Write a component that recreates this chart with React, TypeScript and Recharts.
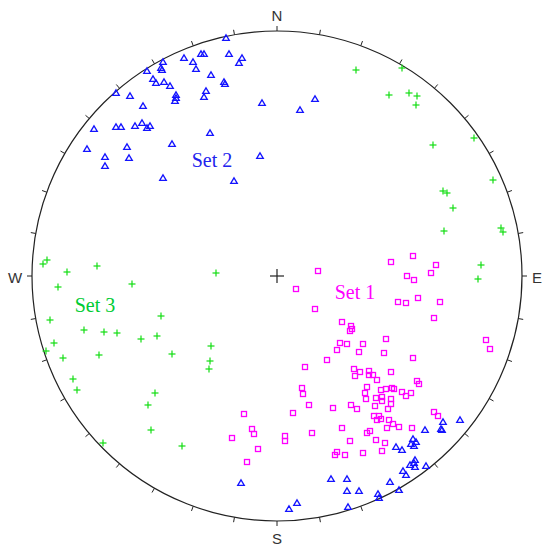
import { ScatterChart, Scatter, XAxis, YAxis, ReferenceDot, ReferenceLine } from "recharts";

// stereonet: projection units, primitive circle radius = 245
const R = 245;
const TICK_ANGLES = [0, 10, 20, 30, 40, 50, 60, 70, 80, 90, 100, 110, 120, 130, 140, 150, 160, 170,
  180, 190, 200, 210, 220, 230, 240, 250, 260, 270, 280, 290, 300, 310, 320, 330, 340, 350];

const directions = [
  { x: 0, y: 261, label: "N" },
  { x: 260, y: -1, label: "E" },
  { x: 0, y: -262, label: "S" },
  { x: -262, y: -1, label: "W" },
];

const setLabels = [
  { x: 78, y: -16, label: "Set 1", color: "#ff00ff" },
  { x: -65, y: 116, label: "Set 2", color: "#2222ee" },
  { x: -182, y: -29, label: "Set 3", color: "#00cc33" },
];

// Set 1 poles (magenta squares)
const set1: [number, number][] = [
  [136, 20], [114, 14], [159, 11], [41, 5], [154, 3], [130, 0], [137, -4], [19, -13],
  [121, -26], [129, -27], [141, -22], [163, -26], [38, -33], [157, -42], [65, -46],
  [74, -50], [75, -53], [73, -55], [109, -63], [63, -67], [70, -68], [86, -68], [60, -74],
  [82, -76], [107, -77], [209, -64], [213, -73], [136, -82], [50, -84], [28, -91],
  [77, -93], [83, -96], [78, -100], [92, -95], [92, -99], [96, -99], [100, -104],
  [114, -96], [140, -105], [142, -108], [90, -111], [88, -117], [89, -123], [25, -112],
  [26, -118], [104, -114], [109, -113], [115, -112], [117, -113], [125, -116], [129, -120],
  [134, -117], [99, -122], [105, -121], [105, -125], [114, -123], [114, -128], [32, -129],
  [56, -132], [74, -129], [80, -133], [98, -130], [111, -133], [16, -137], [97, -140],
  [102, -140], [100, -144], [104, -143], [157, -136], [161, -140], [112, -144], [116, -148],
  [122, -151], [110, -152], [135, -152], [65, -152], [90, -157], [93, -155], [35, -157],
  [8, -160], [8, -165], [99, -164], [73, -165], [108, -167], [105, -175], [86, -177],
  [60, -176], [58, -179], [68, -179], [-33, -138], [-25, -153], [-23, -158], [-45, -162],
  [-19, -173], [-30, -186],
];

// Set 2 poles (blue triangles)
const set2: [number, number][] = [
  [-51, 238], [-76, 222], [-73, 222], [-48, 222], [-93, 218], [-84, 214], [-114, 214],
  [-116, 208], [-115, 206], [-81, 207], [-130, 205], [-35, 218], [-38, 213], [-66, 201],
  [-124, 197], [-121, 193], [-113, 194], [-107, 190], [-53, 194], [-52, 192], [-71, 185],
  [-73, 179], [-101, 181], [-101, 178], [-102, 175], [-161, 183], [-147, 180], [-134, 170],
  [-15, 173], [-183, 147], [-161, 149], [-156, 149], [-142, 150], [-135, 153], [-130, 148],
  [-127, 150], [-67, 143], [-190, 127], [-150, 129], [-105, 132], [-172, 119], [-172, 110],
  [-148, 118], [-17, 120], [-114, 98], [-43, 95], [38, 177], [23, 166], [-36, -207],
  [166, -146], [183, -144], [148, -154], [164, -153], [165, -154], [136, -163], [139, -166],
  [134, -168], [137, -170], [119, -171], [125, -174], [138, -184], [137, -187], [133, -189],
  [138, -191], [149, -190], [126, -195], [129, -199], [113, -206], [54, -203], [70, -203],
  [122, -214], [70, -215], [82, -215], [101, -218], [102, -222], [71, -231], [20, -227],
  [12, -233],
];

// Set 3 poles (green crosses)
const set3: [number, number][] = [
  [79, 206], [125, 208], [112, 181], [132, 183], [140, 180], [139, 171], [197, 138],
  [156, 131], [216, 96], [166, 85], [170, 83], [176, 68], [224, 48], [226, 44], [167, 45],
  [204, 11], [201, -3], [-230, 16], [-234, 12], [-210, 4], [-180, 10], [-61, 3], [-219, -11],
  [-145, -8], [-227, -44], [-116, -40], [-193, -54], [-173, -56], [-160, -57], [-136, -63],
  [-120, -60], [-223, -67], [-231, -75], [-214, -82], [-178, -79], [-105, -78], [-66, -70],
  [-67, -85], [-68, -93], [-204, -103], [-200, -114], [-122, -117], [-129, -129],
  [-126, -154], [-174, -167], [-95, -170],
];

const toPoints = (arr: [number, number][]) => arr.map(([x, y]) => ({ x, y }));

const Square = ({ cx, cy }: any) => (
  <rect x={cx - 2.5} y={cy - 2.5} width={5} height={5} fill="none" stroke="#ff00ff" strokeWidth={1.3} />
);

const Triangle = ({ cx, cy }: any) => (
  <polygon
    points={`${cx},${cy - 3.2} ${cx + 3.3},${cy + 2.4} ${cx - 3.3},${cy + 2.4}`}
    fill="none"
    stroke="#1414ff"
    strokeWidth={1.3}
  />
);

const Plus = ({ cx, cy }: any) => (
  <g stroke="#11dd11" strokeWidth={1.2}>
    <line x1={cx - 3.5} y1={cy} x2={cx + 3.5} y2={cy} />
    <line x1={cx} y1={cy - 3.5} x2={cx} y2={cy + 3.5} />
  </g>
);

const CenterCross = ({ cx, cy }: any) => (
  <g stroke="#222" strokeWidth={1.2}>
    <line x1={cx - 7} y1={cy} x2={cx + 7} y2={cy} />
    <line x1={cx} y1={cy - 7} x2={cx} y2={cy + 7} />
  </g>
);

const DirLabel = ({ cx, cy, payload }: any) => (
  <text x={cx} y={cy} textAnchor="middle" dominantBaseline="central" fontFamily="Liberation Sans, Arial, sans-serif" fontSize={15} fill="#333">
    {payload.label}
  </text>
);

const SetLabel = ({ cx, cy, payload }: any) => (
  <text x={cx} y={cy} textAnchor="middle" dominantBaseline="central" fontFamily="Liberation Serif, Times New Roman, serif" fontSize={20} fill={payload.color}>
    {payload.label}
  </text>
);

export default function App() {
  return (
    <div style={{ position: "absolute", left: 0, top: 0, background: "#fff" }}>
      <ScatterChart width={550} height={549} margin={{ top: 0, right: 0, bottom: 0, left: 0 }}>
        <XAxis type="number" dataKey="x" domain={[-277, 273]} allowDataOverflow hide />
        <YAxis type="number" dataKey="y" domain={[-273, 276]} allowDataOverflow hide />
        <ReferenceDot x={0} y={0} r={R} fill="none" stroke="#222" strokeWidth={1.2} />
        {TICK_ANGLES.map((a) => {
          const t = (a * Math.PI) / 180;
          return (
            <ReferenceLine
              key={a}
              segment={[
                { x: R * Math.sin(t), y: R * Math.cos(t) },
                { x: (R + 5) * Math.sin(t), y: (R + 5) * Math.cos(t) },
              ]}
              stroke="#222"
              strokeWidth={1}
            />
          );
        })}
        <Scatter data={[{ x: 0, y: 0 }]} shape={CenterCross} isAnimationActive={false} />
        <Scatter data={directions} shape={DirLabel} isAnimationActive={false} />
        <Scatter name="Set 3" data={toPoints(set3)} shape={Plus} isAnimationActive={false} />
        <Scatter name="Set 1" data={toPoints(set1)} shape={Square} isAnimationActive={false} />
        <Scatter name="Set 2" data={toPoints(set2)} shape={Triangle} isAnimationActive={false} />
        <Scatter data={setLabels} shape={SetLabel} isAnimationActive={false} />
      </ScatterChart>
    </div>
  );
}
